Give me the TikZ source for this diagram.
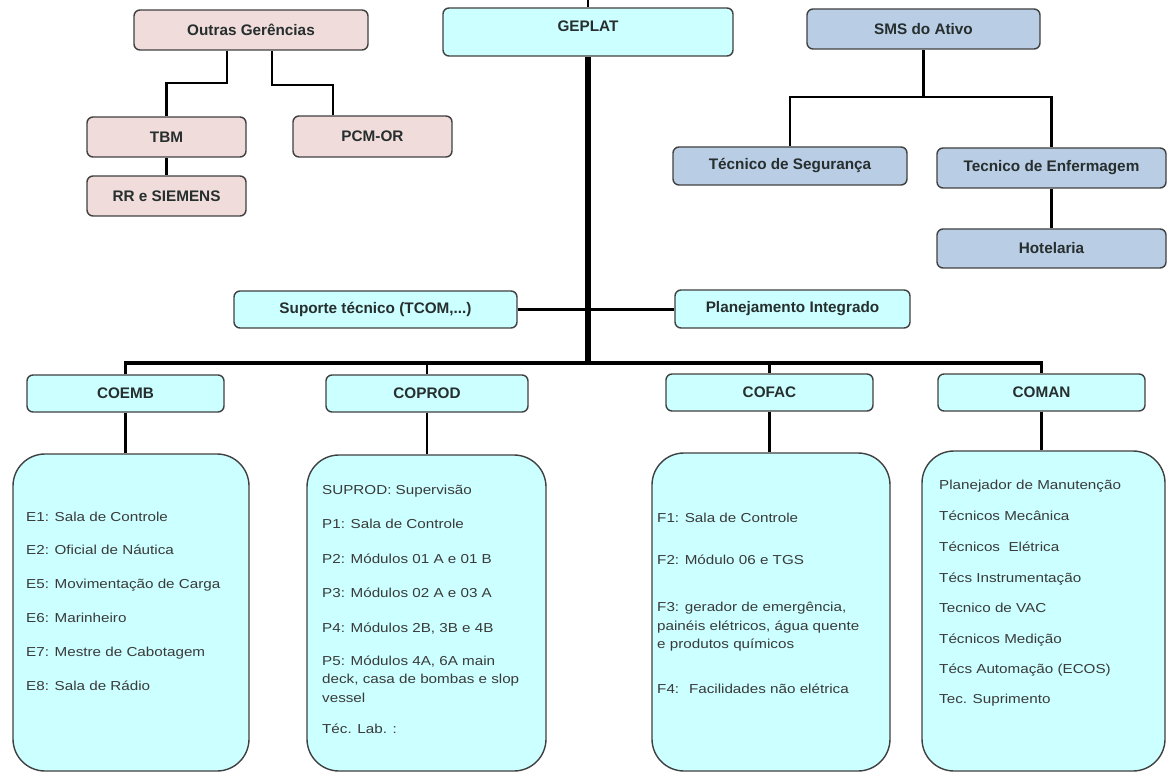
\documentclass[tikz,border=0pt]{standalone}
\usepackage{fontspec}
\setmainfont{Liberation Sans}
\newfontfamily\listfont[FakeStretch=1.17]{Liberation Sans}
\usetikzlibrary{backgrounds}
\definecolor{cCyan}{HTML}{CCFFFF}
\definecolor{cPink}{HTML}{F0DCDB}
\definecolor{cBlue}{HTML}{B9CDE5}
\definecolor{cEdge}{HTML}{404040}
\definecolor{cTitle}{HTML}{262E2E}
\definecolor{cList}{HTML}{3A3A3A}

\begin{document}
\begin{tikzpicture}[x=1pt,y=-1pt,
  box/.style={draw=cEdge, line width=1.4pt, rounded corners=6pt, inner sep=0pt,
    font=\fontsize{15.3}{18}\selectfont\bfseries, text=cTitle},
  unit/.style={box, fill=cCyan},
  ext/.style={box, fill=cPink},
  safety/.style={box, fill=cBlue},
  listbox/.style={draw=cEdge, line width=1.4pt, rounded corners=32pt, fill=cCyan, inner sep=0pt},
  item/.style={anchor=base west, inner sep=0pt, font=\listfont\fontsize{13}{15}\selectfont, text=cList},
  link/.style={line width=2.8pt},
  bar/.style={line width=3.8pt},
  trunk/.style={line width=5.5pt},
]
\useasboundingbox (0,0) rectangle (1167,775);

% --- other departments (pink)
\node[ext, minimum width=234pt, minimum height=40pt] (outras) at (251,30) {Outras Gerências};
\node[ext, minimum width=159pt, minimum height=40pt] (tbm) at (166.5,137) {TBM};
\node[ext, minimum width=159pt, minimum height=40pt] (rr) at (166.5,196) {RR e SIEMENS};
\node[ext, minimum width=159pt, minimum height=41pt] (pcm) at (372.5,136.5) {PCM-OR};

% --- management
\node[unit, minimum width=290pt, minimum height=48pt, text height=11pt, text depth=11pt] (geplat) at (588,32) {GEPLAT};

% --- SMS (blue)
\node[safety, minimum width=233pt, minimum height=40pt] (sms) at (923.5,29) {SMS do Ativo};
\node[safety, minimum width=234pt, minimum height=38pt] (seg) at (790,166) {Técnico de Segurança};
\node[safety, minimum width=229pt, minimum height=40pt] (enf) at (1051.5,168) {Tecnico de Enfermagem};
\node[safety, minimum width=229pt, minimum height=39pt] (hot) at (1051.5,248.5) {Hotelaria};

% --- staff
\node[unit, minimum width=283pt, minimum height=37pt] (sup) at (375.5,309.5) {Suporte técnico (TCOM,...)};
\node[unit, minimum width=235pt, minimum height=38pt] (plan) at (792.5,309) {Planejamento Integrado};

% --- coordinations
\node[unit, minimum width=197pt, minimum height=37pt] (coemb) at (125.5,393.5) {COEMB};
\node[unit, minimum width=202pt, minimum height=37pt] (coprod) at (427,393.5) {COPROD};
\node[unit, minimum width=207pt, minimum height=37pt] (cofac) at (769.5,392.5) {COFAC};
\node[unit, minimum width=207pt, minimum height=37pt] (coman) at (1041.5,392.5) {COMAN};

% --- team lists
\node[listbox, minimum width=236pt, minimum height=317pt] (le) at (131,612.5) {};
\node[listbox, minimum width=239pt, minimum height=316pt] (lp) at (426.5,613) {};
\node[listbox, minimum width=238pt, minimum height=318pt] (lf) at (771,612) {};
\node[listbox, minimum width=243pt, minimum height=320pt] (lm) at (1043.5,611) {};

\node[item] (e1) at (26,521) {E1: Sala de Controle};
\node[item] (e2) at (26,554.5) {E2: Oficial de Náutica};
\node[item] (e5) at (26,588) {E5: Movimentação de Carga};
\node[item] (e6) at (26,622) {E6: Marinheiro};
\node[item] (e7) at (26,656) {E7: Mestre de Cabotagem};
\node[item] (e8) at (26,690) {E8: Sala de Rádio};

\node[item] (p0) at (322,494) {SUPROD: Supervisão};
\node[item] (p1) at (322,528) {P1: Sala de Controle};
\node[item] (p2) at (322,563) {P2: Módulos 01 A e 01 B};
\node[item] (p3) at (322,597) {P3: Módulos 02 A e 03 A};
\node[item] (p4) at (322,632) {P4: Módulos 2B, 3B e 4B};
\node[item] (p5a) at (322,665) {P5: Módulos 4A, 6A main};
\node[item] (p5b) at (322,683.5) {deck, casa de bombas e slop};
\node[item] (p5c) at (322,702) {vessel};
\node[item] (plab) at (322,733) {Téc. Lab. :};

\node[item] (f1) at (657,522.5) {F1: Sala de Controle};
\node[item] (f2) at (657,564) {F2: Módulo 06 e TGS};
\node[item] (f3a) at (657,611.5) {F3: gerador de emergência,};
\node[item] (f3b) at (657,630) {painéis elétricos, água quente};
\node[item] (f3c) at (657,648.5) {e produtos químicos};
\node[item] (f4) at (657,693) {F4:~ Facilidades não elétrica};

\node[item] (m1) at (939,489) {Planejador de Manutenção};
\node[item] (m2) at (939,520) {Técnicos Mecânica};
\node[item] (m3) at (939,551) {Técnicos~ Elétrica};
\node[item] (m4) at (939,582) {Técs Instrumentação};
\node[item] (m5) at (939,612) {Tecnico de VAC};
\node[item] (m6) at (939,643) {Técnicos Medição};
\node[item] (m7) at (939,673) {Técs Automação (ECOS)};
\node[item] (m8) at (939,703) {Tec. Suprimento};

% --- connectors
\coordinate (o1) at (227,83);
\coordinate (o2) at (272,85);
\coordinate (o2x) at (333,0);
\coordinate (s1) at (923.5,97);
\coordinate (topedge) at (588,0);
\coordinate (hub) at (588,363);
\coordinate (trunkend) at (588,365);

\begin{pgfonlayer}{background}
  \draw[link] (o1 |- outras.south) -- (o1) -| (tbm.north);
  \draw[link] (o2 |- outras.south) -- (o2) -| (pcm.north -| o2x);
  \draw[link] (tbm.south) -- (rr.north);

  \draw[link] (sms.south) -- (s1);
  \draw[link] (seg.north) |- (s1) -| (enf.north);
  \draw[link] (enf.south) -- (hot.north);

  \draw[line width=2.4pt] (topedge) -- (geplat.north);
  \draw[trunk] (geplat.south) -- (trunkend);
  \draw[bar] (sup.east) -- (sup.east -| plan.west);

  \draw[bar] (coemb.north) |- (hub) -| (coman.north);
  \draw[link] (coprod.north |- hub) -- (coprod.north);
  \draw[link] (cofac.north |- hub) -- (cofac.north);

  \draw[link] (coemb.south) -- (coemb.south |- le.north);
  \draw[link] (coprod.south) -- (coprod.south |- lp.north);
  \draw[link] (cofac.south) -- (cofac.south |- lf.north);
  \draw[link] (coman.south) -- (coman.south |- lm.north);
\end{pgfonlayer}
\end{tikzpicture}
\end{document}
